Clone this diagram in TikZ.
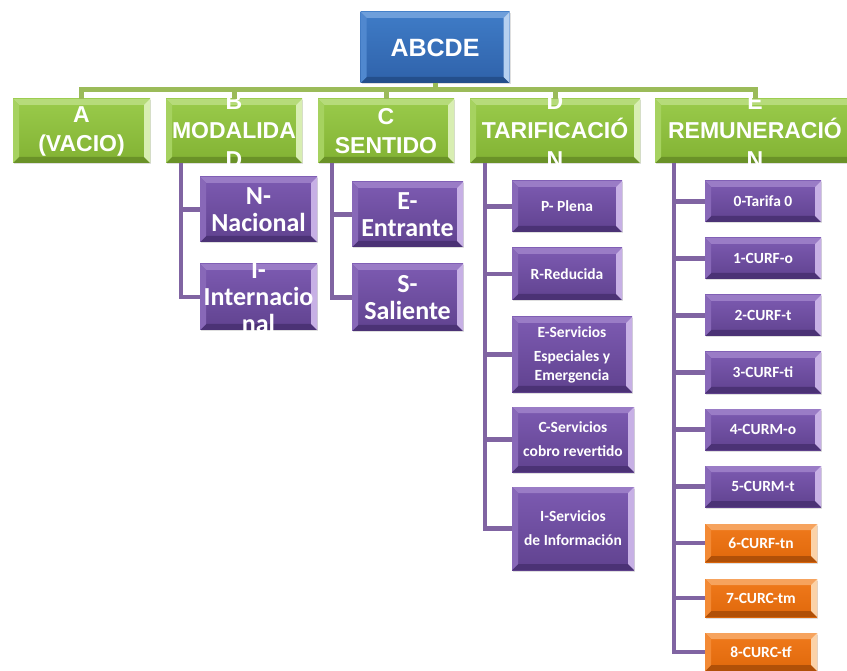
\documentclass[tikz,border=0pt]{standalone}
\usepackage{fontspec}
\setmainfont{Liberation Sans}
\newfontfamily\calfont{Carlito}
\usetikzlibrary{positioning, calc, shadows}

% box colours: face top/bottom, bevel strips
\definecolor{grntop}{HTML}{9ACB4B}
\definecolor{grnbot}{HTML}{82B233}
\definecolor{grnhi}{HTML}{B6DB7A}
\definecolor{grnlt}{HTML}{A6D260}
\definecolor{grnrt}{HTML}{D8EEB2}
\definecolor{grnlo}{HTML}{6A9228}
\definecolor{purtop}{HTML}{7D5BB2}
\definecolor{purbot}{HTML}{60428F}
\definecolor{purhi}{HTML}{9A7CC6}
\definecolor{purlt}{HTML}{8868B8}
\definecolor{purrt}{HTML}{C7B0E5}
\definecolor{purlo}{HTML}{4B3275}
\definecolor{blutop}{HTML}{3F7CC7}
\definecolor{blubot}{HTML}{2F62AA}
\definecolor{bluhi}{HTML}{6E9FDB}
\definecolor{blult}{HTML}{5088CF}
\definecolor{blurt}{HTML}{B5D0F0}
\definecolor{blulo}{HTML}{244F8C}
\definecolor{orgtop}{HTML}{F07A1C}
\definecolor{orgbot}{HTML}{E0680B}
\definecolor{orghi}{HTML}{F6A35E}
\definecolor{orglt}{HTML}{F38A35}
\definecolor{orgrt}{HTML}{FBD2A8}
\definecolor{orglo}{HTML}{B05008}
\definecolor{grnline}{HTML}{9BBB59}
\definecolor{purline}{HTML}{8064A2}

\begin{document}
\begin{tikzpicture}[%
    x=1pt, y=-1pt,
    font=\bfseries,
    % bevelled SmartArt-like box
    bevelled/.style={rectangle, inner sep=0pt, outer sep=0pt, text=white, align=center,
        top color=#1top, bottom color=#1bot,
        drop shadow={opacity=0.25, shadow xshift=1pt, shadow yshift=-1.5pt},
        path picture={
            \fill[#1hi] (path picture bounding box.north west) -- (path picture bounding box.north east)
                -- ([shift={(-6pt,-6pt)}]path picture bounding box.north east) -- ([shift={(6pt,-6pt)}]path picture bounding box.north west) -- cycle;
            \fill[#1lo] (path picture bounding box.south west) -- (path picture bounding box.south east)
                -- ([shift={(-6pt,6pt)}]path picture bounding box.south east) -- ([shift={(6pt,6pt)}]path picture bounding box.south west) -- cycle;
            \fill[#1lt] (path picture bounding box.north west) -- (path picture bounding box.south west)
                -- ([shift={(6pt,6pt)}]path picture bounding box.south west) -- ([shift={(6pt,-6pt)}]path picture bounding box.north west) -- cycle;
            \fill[#1rt] (path picture bounding box.north east) -- (path picture bounding box.south east)
                -- ([shift={(-6pt,6pt)}]path picture bounding box.south east) -- ([shift={(-6pt,-6pt)}]path picture bounding box.north east) -- cycle;
        }},
    rootbox/.style={bevelled=blu, minimum width=149pt, minimum height=71pt, font=\bfseries\fontsize{25}{30}\selectfont},
    hdbox/.style={bevelled=grn, minimum height=64pt},
    hdtext/.style={text=white, align=center, inner sep=0pt, font=\bfseries\fontsize{23}{29}\selectfont},
    midbox/.style={bevelled=pur},
    midtext/.style={text=white, align=center, inner sep=0pt, font=\calfont\bfseries\fontsize{26}{27}\selectfont},
    leafbox/.style={bevelled=pur, font=\calfont\bfseries\fontsize{15.5}{19}\selectfont},
    orgbox/.style={bevelled=org, font=\calfont\bfseries\fontsize{15.5}{19}\selectfont},
    greenlink/.style={draw=grnline, line width=5pt},
    purplelink/.style={draw=purline, line width=4.5pt}
]
\useasboundingbox (0,0) rectangle (847,671);

% --- Root and first level ---
\node[rootbox] (root) at (435,47.5) {ABCDE};

\node[hdbox, minimum width=137pt, label={[hdtext]center:A\\(VACIO)}] (A) at (81.5,131) {};
\node[hdbox, minimum width=136pt, right=16pt of A, label={[hdtext]center:B\\MODALIDA\\D}] (B) {};
\node[hdbox, minimum width=136pt, right=16pt of B, label={[hdtext]center:C\\SENTIDO}] (C) {};
\node[hdbox, minimum width=170pt, right=16pt of C, label={[hdtext]center:D\\TARIFICACIÓ\\N}] (D) {};
\node[hdbox, minimum width=200pt, right=15pt of D, label={[hdtext]center:E\\REMUNERACIÓ\\N}] (E) {};

% Connections
\draw[greenlink] (root.south) -- ++(0,7) -| (A.north);
\draw[greenlink] (root.south) -- ++(0,7) -| (B.north);
\draw[greenlink] (root.south) -- ++(0,7) -| (C.north);
\draw[greenlink] (root.south) -- ++(0,7) -| (D.north);
\draw[greenlink] (root.south) -- ++(0,7) -| (E.north);

% --- B: modalidad ---
\node[midbox, minimum width=117pt, minimum height=65pt, label={[midtext]center:N-\\Nacional}] (Bn) at (258.5,209.5) {};
\node[midbox, minimum width=117pt, minimum height=66pt, below=22pt of Bn, label={[midtext]center:I-\\Internacio\\nal}] (Bi) {};

% --- C: sentido ---
\node[midbox, minimum width=111pt, minimum height=65pt, label={[midtext]center:E-\\Entrante}] (Ce) at (407.5,214.5) {};
\node[midbox, minimum width=111pt, minimum height=67pt, below=17pt of Ce, label={[midtext]center:S-\\Saliente}] (Cs) {};

% --- D: tarificacion ---
\node[leafbox, minimum width=110pt, minimum height=51pt] (Dp) at (567,206.5) {P- Plena};
\node[leafbox, minimum width=110pt, minimum height=52pt, below=16pt of Dp.south west, anchor=north west] (Dr) {R-Reducida};
\node[leafbox, minimum width=120pt, minimum height=75pt, below=17pt of Dr.south west, anchor=north west] (De) {E-Servicios\\[5pt]Especiales y\\Emergencia};
\node[leafbox, minimum width=122pt, minimum height=65pt, below=15pt of De.south west, anchor=north west] (Dc) {C-Servicios\\[5pt]cobro revertido};
\node[leafbox, minimum width=122pt, minimum height=83pt, below=15pt of Dc.south west, anchor=north west] (Di) {I-Servicios\\[5pt]de Información};

% --- E: remuneracion ---
\node[leafbox, minimum width=116pt, minimum height=41pt] (E0) at (763,201.5) {0-Tarifa 0};
\node[leafbox, minimum width=116pt, minimum height=41pt, below=16pt of E0] (E1) {1-CURF-o};
\node[leafbox, minimum width=116pt, minimum height=41pt, below=16pt of E1] (E2) {2-CURF-t};
\node[leafbox, minimum width=116pt, minimum height=41pt, below=16pt of E2] (E3) {3-CURF-ti};
\node[leafbox, minimum width=116pt, minimum height=41pt, below=16pt of E3] (E4) {4-CURM-o};
\node[leafbox, minimum width=116pt, minimum height=41pt, below=16pt of E4] (E5) {5-CURM-t};
\node[orgbox, minimum width=112pt, minimum height=38pt, below=17pt of E5.south west, anchor=north west] (E6) {6-CURF-tn};
\node[orgbox, minimum width=112pt, minimum height=38pt, below=17pt of E6.south west, anchor=north west] (E7) {7-CURC-tm};
\node[orgbox, minimum width=112pt, minimum height=38pt, below=16pt of E7.south west, anchor=north west] (E8) {8-CURC-tf};

% Connections
\draw[purplelink] ([xshift=15pt]B.south west) |- (Bn.west);
\draw[purplelink] ([xshift=15pt]B.south west) |- (Bi.west);
\draw[purplelink] ([xshift=14pt]C.south west) |- (Ce.west);
\draw[purplelink] ([xshift=14pt]C.south west) |- (Cs.west);
\draw[purplelink] ([xshift=15pt]D.south west) |- (Dp.west);
\draw[purplelink] ([xshift=15pt]D.south west) |- (Dr.west);
\draw[purplelink] ([xshift=15pt]D.south west) |- (De.west);
\draw[purplelink] ([xshift=15pt]D.south west) |- (Dc.west);
\draw[purplelink] ([xshift=15pt]D.south west) |- (Di.west);
\draw[purplelink] ([xshift=19pt]E.south west) |- (E0.west);
\draw[purplelink] ([xshift=19pt]E.south west) |- (E1.west);
\draw[purplelink] ([xshift=19pt]E.south west) |- (E2.west);
\draw[purplelink] ([xshift=19pt]E.south west) |- (E3.west);
\draw[purplelink] ([xshift=19pt]E.south west) |- (E4.west);
\draw[purplelink] ([xshift=19pt]E.south west) |- (E5.west);
\draw[purplelink] ([xshift=19pt]E.south west) |- (E6.west);
\draw[purplelink] ([xshift=19pt]E.south west) |- (E7.west);
\draw[purplelink] ([xshift=19pt]E.south west) |- (E8.west);

\end{tikzpicture}
\end{document}
